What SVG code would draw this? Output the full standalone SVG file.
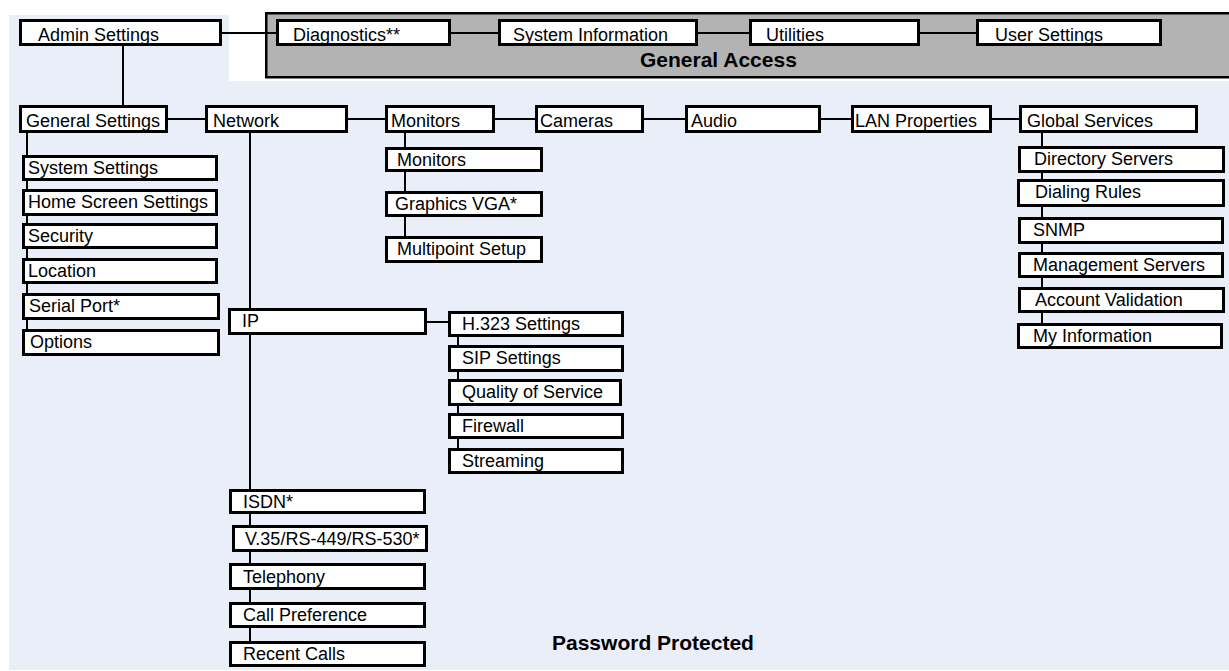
<svg xmlns="http://www.w3.org/2000/svg" width="1229" height="671" viewBox="0 0 1229 671">
<style>
.bx{fill:#fff;stroke:#000;stroke-width:3}
.t{font-family:"Liberation Sans",Arial,sans-serif;font-size:18px;fill:#000}
.b{font-family:"Liberation Sans",Arial,sans-serif;font-size:21px;font-weight:bold;fill:#000}
.c{stroke:#000;stroke-width:2;fill:none}
</style>
<rect x="0" y="0" width="1229" height="671" fill="#fff"/>
<polygon points="9,15 229,15 229,81 1229,81 1229,670 9,670" fill="#EAEEF9"/>
<rect x="266.25" y="13.25" width="980" height="64" fill="#B3B3B3" stroke="#000" stroke-width="2.5"/>
<text class="b" x="640" y="66.5">General Access</text>
<text class="b" x="552" y="650">Password Protected</text>
<g id="connectors">
<path class="c" d="M222,33H276M451,33H498M698,33H749M920,33H976"/>
<path class="c" d="M123,46V105"/>
<path class="c" d="M168,119H205M348,119H385M495,119H535M644,119H685M821,119H851M992,119H1019"/>
<path class="c" d="M27,133V329"/>
<path class="c" d="M250,133V641"/>
<path class="c" d="M405,133V236"/>
<path class="c" d="M1042,133V323"/>
<path class="c" d="M427,322H448"/>
<path class="c" d="M458,337V448"/>
</g>
<g id="admin-settings"><rect class="bx" x="20.5" y="20.5" width="200" height="24"/><text class="t" x="38" y="40.5">Admin Settings</text></g>
<g id="diagnostics"><rect class="bx" x="277.5" y="20.5" width="172" height="24"/><text class="t" x="293" y="40.5">Diagnostics**</text></g>
<g id="system-information"><rect class="bx" x="499.5" y="20.5" width="197" height="24"/><text class="t" x="513" y="40.5">System Information</text></g>
<g id="utilities"><rect class="bx" x="750.5" y="20.5" width="168" height="24"/><text class="t" x="766" y="40.5">Utilities</text></g>
<g id="user-settings"><rect class="bx" x="977.5" y="20.5" width="183" height="24"/><text class="t" x="995" y="40.5">User Settings</text></g>

<g id="general-settings"><rect class="bx" x="20.5" y="106.5" width="146" height="25"/><text class="t" x="26" y="126.5">General Settings</text></g>
<g id="network"><rect class="bx" x="206.5" y="106.5" width="140" height="25"/><text class="t" x="213" y="126.5">Network</text></g>
<g id="monitors"><rect class="bx" x="386.5" y="106.5" width="107" height="25"/><text class="t" x="391" y="126.5">Monitors</text></g>
<g id="cameras"><rect class="bx" x="536.5" y="106.5" width="106" height="25"/><text class="t" x="540" y="126.5">Cameras</text></g>
<g id="audio"><rect class="bx" x="686.5" y="106.5" width="133" height="25"/><text class="t" x="691" y="126.5">Audio</text></g>
<g id="lan-properties"><rect class="bx" x="852.5" y="106.5" width="138" height="25"/><text class="t" x="855" y="126.5">LAN Properties</text></g>
<g id="global-services"><rect class="bx" x="1020.5" y="106.5" width="176" height="25"/><text class="t" x="1027" y="126.5">Global Services</text></g>

<g id="system-settings"><rect class="bx" x="23.5" y="156.5" width="193" height="23"/><text class="t" x="28" y="174">System Settings</text></g>
<g id="home-screen-settings"><rect class="bx" x="23.5" y="190.5" width="193" height="24"/><text class="t" x="28" y="208">Home Screen Settings</text></g>
<g id="security"><rect class="bx" x="23.5" y="224.5" width="193" height="23"/><text class="t" x="28" y="242">Security</text></g>
<g id="location"><rect class="bx" x="23.5" y="259.5" width="193" height="23"/><text class="t" x="28" y="277">Location</text></g>
<g id="serial-port"><rect class="bx" x="23.5" y="294.5" width="195" height="24"/><text class="t" x="29" y="312">Serial Port*</text></g>
<g id="options"><rect class="bx" x="23.5" y="330.5" width="195" height="24"/><text class="t" x="30" y="348">Options</text></g>

<g id="monitors-sub"><rect class="bx" x="386.5" y="148.5" width="155" height="22"/><text class="t" x="397" y="166">Monitors</text></g>
<g id="graphics-vga"><rect class="bx" x="386.5" y="192.5" width="155" height="23"/><text class="t" x="395" y="210">Graphics VGA*</text></g>
<g id="multipoint-setup"><rect class="bx" x="386.5" y="237.5" width="155" height="24"/><text class="t" x="397" y="255">Multipoint Setup</text></g>

<g id="directory-servers"><rect class="bx" x="1019.5" y="147.5" width="204" height="24"/><text class="t" x="1034" y="165">Directory Servers</text></g>
<g id="dialing-rules"><rect class="bx" x="1018.5" y="180.5" width="205" height="25"/><text class="t" x="1035" y="198">Dialing Rules</text></g>
<g id="snmp"><rect class="bx" x="1019.5" y="218.5" width="203" height="24"/><text class="t" x="1033" y="236">SNMP</text></g>
<g id="management-servers"><rect class="bx" x="1019.5" y="253.5" width="203" height="23"/><text class="t" x="1033" y="271">Management Servers</text></g>
<g id="account-validation"><rect class="bx" x="1019.5" y="288.5" width="204" height="23"/><text class="t" x="1035" y="306">Account Validation</text></g>
<g id="my-information"><rect class="bx" x="1018.5" y="324.5" width="203" height="23"/><text class="t" x="1033" y="342">My Information</text></g>

<g id="ip"><rect class="bx" x="229.5" y="309.5" width="196" height="24"/><text class="t" x="242" y="327">IP</text></g>
<g id="h323-settings"><rect class="bx" x="449.5" y="312.5" width="173" height="23"/><text class="t" x="462" y="330">H.323 Settings</text></g>
<g id="sip-settings"><rect class="bx" x="449.5" y="346.5" width="173" height="24"/><text class="t" x="462" y="364">SIP Settings</text></g>
<g id="quality-of-service"><rect class="bx" x="449.5" y="380.5" width="171" height="24"/><text class="t" x="462" y="398">Quality of Service</text></g>
<g id="firewall"><rect class="bx" x="449.5" y="414.5" width="173" height="23"/><text class="t" x="462" y="432">Firewall</text></g>
<g id="streaming"><rect class="bx" x="449.5" y="449.5" width="173" height="23"/><text class="t" x="462" y="467">Streaming</text></g>

<g id="isdn"><rect class="bx" x="230.5" y="490.5" width="194" height="22"/><text class="t" x="243" y="508">ISDN*</text></g>
<g id="v35"><rect class="bx" x="233.5" y="526.5" width="193" height="24"/><text class="t" x="245" y="545">V.35/RS-449/RS-530*</text></g>
<g id="telephony"><rect class="bx" x="230.5" y="564.5" width="194" height="24"/><text class="t" x="243" y="583">Telephony</text></g>
<g id="call-preference"><rect class="bx" x="230.5" y="603.5" width="194" height="23"/><text class="t" x="243" y="621">Call Preference</text></g>
<g id="recent-calls"><rect class="bx" x="230.5" y="642.5" width="194" height="23"/><text class="t" x="243" y="660">Recent Calls</text></g>
</svg>
